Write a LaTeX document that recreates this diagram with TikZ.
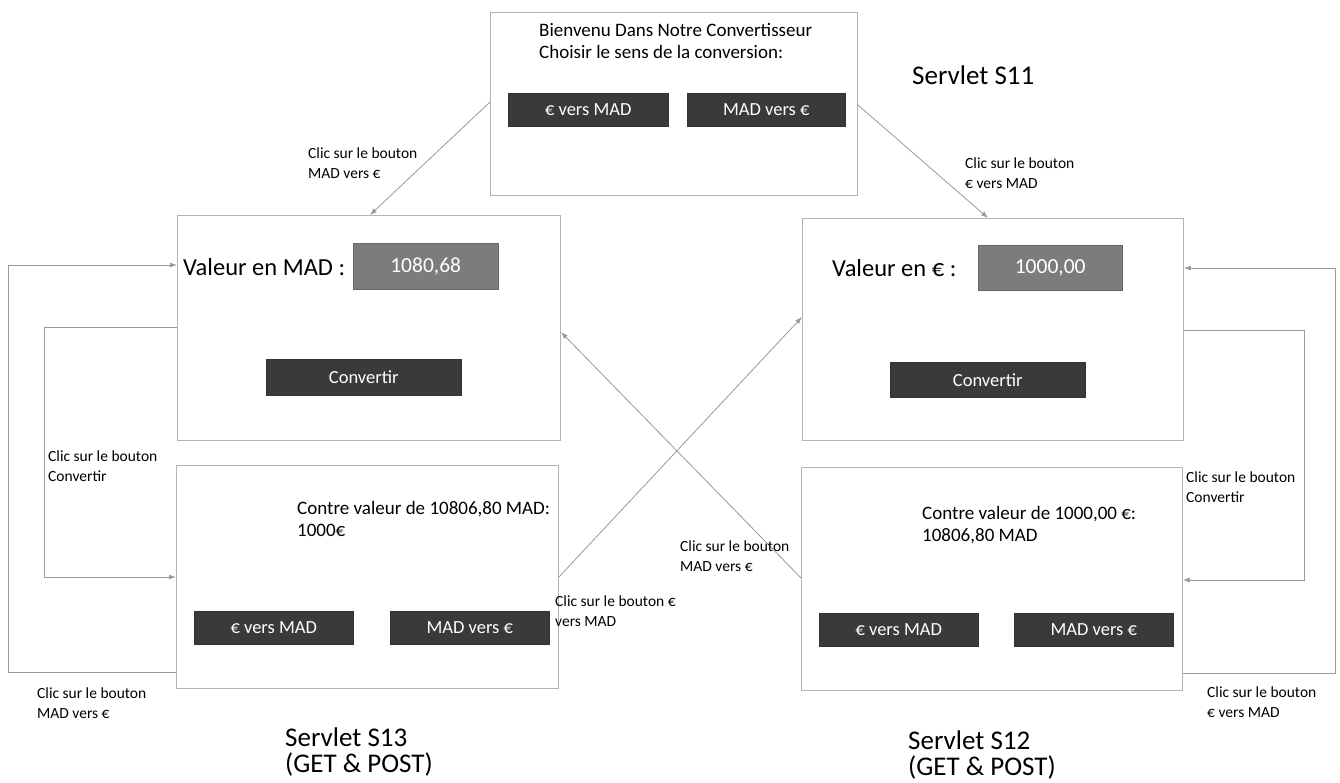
\documentclass[tikz,border=0pt]{standalone}
\usepackage{fontspec}
\setmainfont{Carlito}
\usetikzlibrary{arrows.meta}
\definecolor{boxline}{HTML}{B4B4B4}
\definecolor{arrline}{HTML}{9A9A9A}
\definecolor{btnfill}{HTML}{3A3A3A}
\definecolor{infill}{HTML}{7C7C7C}
\tikzset{
  frame/.style={draw=boxline, line width=0.9pt, anchor=north west, inner sep=0pt},
  btn/.style={fill=btnfill, draw=black!80, line width=0.4pt, text=white,
    font=\fontsize{18.5}{20}\selectfont, anchor=north west, inner sep=0pt},
  field/.style={fill=infill, draw=black!60, line width=0.4pt, text=white,
    font=\fontsize{21.5}{24}\selectfont, anchor=north west, inner sep=0pt},
  lbl/.style={font=\fontsize{15.5}{20}\selectfont, align=left, anchor=west, inner sep=0pt},
  txt/.style={font=\fontsize{19}{22}\selectfont, align=left, anchor=west, inner sep=0pt},
  valtxt/.style={font=\fontsize{24.5}{28}\selectfont, anchor=west, inner sep=0pt},
  servlet/.style={font=\fontsize{27}{26}\selectfont, align=left, anchor=west, inner sep=0pt},
  arr/.style={draw=arrline, line width=0.8pt, -{Latex[length=7pt,width=5pt]}},
}
\begin{document}
\begin{tikzpicture}[x=1pt,y=-1pt]
\useasboundingbox[fill=white] (0,0) rectangle (1340,782);

% Servlet S11
\node[frame, minimum width=367pt, minimum height=183pt] (top) at (490,12) {};
\node[txt] (toptxt) at (539,41) {Bienvenu Dans Notre Convertisseur\\Choisir le sens de la conversion:};
\node[btn, minimum width=160pt, minimum height=33pt] (tb1) at (508,93) {€ vers MAD};
\node[btn, minimum width=158pt, minimum height=33pt] (tb2) at (687,93) {MAD vers €};
\node[servlet] (s11lbl) at (912,75) {Servlet S11};

% MAD input page
\node[frame, minimum width=383pt, minimum height=225pt] (mad) at (177,215) {};
\node[valtxt] (madtxt) at (183,267) {Valeur en MAD :};
\node[field, minimum width=145pt, minimum height=46pt] (madin) at (353,243) {1080,68};
\node[btn, minimum width=195pt, minimum height=36pt] (madbtn) at (266,359) {Convertir};

% EUR input page
\node[frame, minimum width=381pt, minimum height=222pt] (eur) at (802,218) {};
\node[valtxt] (eurtxt) at (832,268) {Valeur en € :};
\node[field, minimum width=144pt, minimum height=45pt] (eurin) at (978,245) {1000,00};
\node[btn, minimum width=195pt, minimum height=35pt] (eurbtn) at (890,362) {Convertir};

% Servlet S13 result
\node[frame, minimum width=382pt, minimum height=223pt] (s13) at (176,465) {};
\node[txt] (s13txt) at (297,519) {Contre valeur de 10806,80 MAD:\\1000€};
\node[btn, minimum width=159pt, minimum height=33pt] (s13b1) at (194,611) {€ vers MAD};
\node[btn, minimum width=159pt, minimum height=33pt] (s13b2) at (390,611) {MAD vers €};
\node[servlet] (s13lbl) at (285,752) {Servlet S13\\(GET \& POST)};

% Servlet S12 result
\node[frame, minimum width=381pt, minimum height=223pt] (s12) at (801,467) {};
\node[txt] (s12txt) at (922,525) {Contre valeur de 1000,00 €:\\10806,80 MAD};
\node[btn, minimum width=159pt, minimum height=33pt] (s12b1) at (819,613) {€ vers MAD};
\node[btn, minimum width=159pt, minimum height=33pt] (s12b2) at (1014,613) {MAD vers €};
\node[servlet] (s12lbl) at (908,755) {Servlet S12\\(GET \& POST)};

% attachment points
\coordinate (pTopL) at ([yshift=-90pt]top.north west);
\coordinate (pTopR) at ([yshift=-93pt]top.north east);
\coordinate (pMadT) at ([xshift=193pt]mad.north west);
\coordinate (pEurT) at ([xshift=186pt]eur.north west);
\coordinate (pS13R) at ([yshift=-112pt]s13.north east);
\coordinate (pEurL) at ([yshift=-99pt]eur.north west);
\coordinate (pS12L) at ([yshift=-111pt]s12.north west);
\coordinate (pMadR) at ([yshift=-117pt]mad.north east);

\coordinate (pS13Lo) at ([yshift=-207pt]s13.north west);
\coordinate (pMadLo) at ([yshift=-50pt]mad.north west);
\coordinate (pMadLi) at ([yshift=-112pt]mad.north west);
\coordinate (pS13Li) at ([yshift=-112pt]s13.north west);
\coordinate (xLo) at (8,0);
\coordinate (xLi) at (44,0);

\coordinate (pS12Ro) at ([yshift=-206pt]s12.north east);
\coordinate (pEurRo) at ([yshift=-50pt]eur.north east);
\coordinate (pEurRi) at ([yshift=-112pt]eur.north east);
\coordinate (pS12Ri) at ([yshift=-113pt]s12.north east);
\coordinate (xRo) at (1335,0);
\coordinate (xRi) at (1304,0);

% diagonal connectors
\draw[arr] (pTopL) -- (pMadT);
\draw[arr] (pTopR) -- (pEurT);
\draw[arr] (pS13R) -- (pEurL);
\draw[arr] (pS12L) -- (pMadR);

% left loops
\draw[arr] (pS13Lo) -- (pS13Lo -| xLo) -- (pMadLo -| xLo) -- (pMadLo);
\draw[arr] (pMadLi) -- (pMadLi -| xLi) -- (pS13Li -| xLi) -- (pS13Li);

% right loops
\draw[arr] (pS12Ro) -- (pS12Ro -| xRo) -- (pEurRo -| xRo) -- (pEurRo);
\draw[arr] (pEurRi) -- (pEurRi -| xRi) -- (pS12Ri -| xRi) -- (pS12Ri);

% labels
\node[lbl] (l1) at (308,163) {Clic sur le bouton\\MAD vers €};
\node[lbl] (l2) at (965,173) {Clic sur le bouton\\€ vers MAD};
\node[lbl] (l3) at (48,466) {Clic sur le bouton\\Convertir};
\node[lbl] (l4) at (37,703) {Clic sur le bouton\\MAD vers €};
\node[lbl] (l5) at (1186,487) {Clic sur le bouton\\Convertir};
\node[lbl] (l6) at (1207,702) {Clic sur le bouton\\€ vers MAD};
\node[lbl] (l7) at (680,556) {Clic sur le bouton\\MAD vers €};
\node[lbl] (l8) at (555,611) {Clic sur le bouton €\\vers MAD};
\end{tikzpicture}
\end{document}
